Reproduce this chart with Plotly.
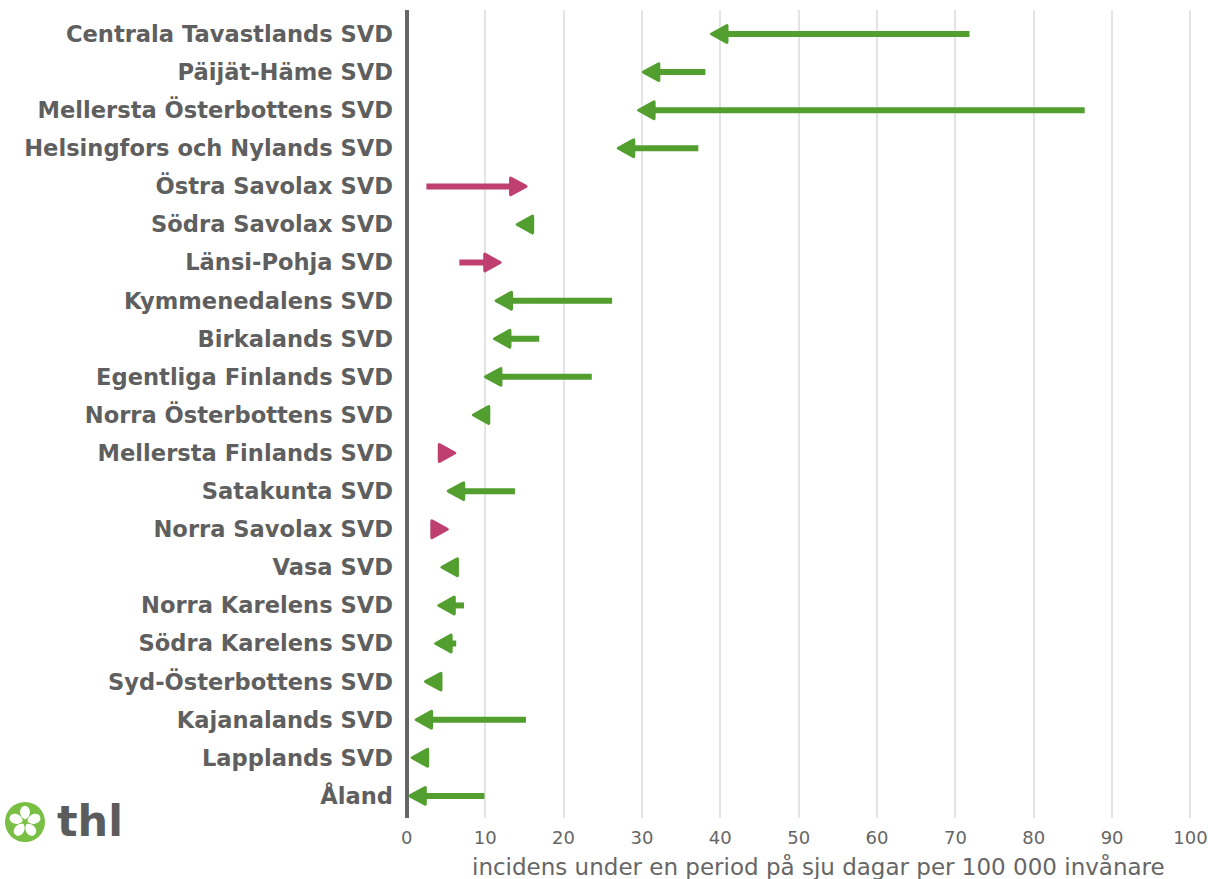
import plotly.graph_objects as go
import math

regions = [
    "Centrala Tavastlands SVD", "Päijät-Häme SVD", "Mellersta Österbottens SVD",
    "Helsingfors och Nylands SVD", "Östra Savolax SVD", "Södra Savolax SVD",
    "Länsi-Pohja SVD", "Kymmenedalens SVD", "Birkalands SVD",
    "Egentliga Finlands SVD", "Norra Österbottens SVD", "Mellersta Finlands SVD",
    "Satakunta SVD", "Norra Savolax SVD", "Vasa SVD", "Norra Karelens SVD",
    "Södra Karelens SVD", "Syd-Österbottens SVD", "Kajanalands SVD",
    "Lapplands SVD", "Åland",
]
previous_week = [71.8, 38.1, 86.5, 37.2, 2.5, 15.5, 6.7, 26.2, 16.9, 23.6, 10.2,
                 4.6, 13.8, 3.8, 6.2, 7.3, 6.3, 4.2, 15.2, 2.6, 9.9]
current_week = [38.5, 29.8, 29.2, 26.6, 15.6, 13.7, 12.3, 11.0, 10.8, 9.65, 8.1,
                6.5, 4.9, 5.55, 4.1, 3.7, 3.3, 2.0, 0.8, 0.3, 0.0]
x_ticks = [0, 10, 20, 30, 40, 50, 60, 70, 80, 90, 100]
x_title = "incidens under en period på sju dagar per 100 000 invånare"

GREEN = "#529e2f"
PINK = "#bf3f70"
GREY = "#5f5f5f"

HEAD_LEN, HEAD_HALF, ROUND = 20, 11, 3.2
L_M, R_M, T_M, B_M = 404, 14, 10, 61
PW, PH = 1208 - L_M - R_M, 879 - T_M - B_M


def rounded_polygon(pts, d):
    n = len(pts)
    A, B = [], []
    for i in range(n):
        vx, vy = pts[i]
        px_, py_ = pts[i - 1]
        nx, ny = pts[(i + 1) % n]
        lp = math.hypot(px_ - vx, py_ - vy)
        ln = math.hypot(nx - vx, ny - vy)
        A.append((vx + d * (px_ - vx) / lp, vy + d * (py_ - vy) / lp))
        B.append((vx + d * (nx - vx) / ln, vy + d * (ny - vy) / ln))
    s = f"M{B[0][0]:.2f},{B[0][1]:.2f}"
    for i in list(range(1, n)) + [0]:
        s += (f" L{A[i][0]:.2f},{A[i][1]:.2f} Q{pts[i][0]:.2f},{pts[i][1]:.2f}"
              f" {B[i][0]:.2f},{B[i][1]:.2f}")
    return s + " Z"


fig = go.Figure()
shapes = []
for i, (name, p, c) in enumerate(zip(regions, previous_week, current_week)):
    col = GREEN if c < p else PINK
    sgn = 1 if c < p else -1  # head extends to the right of the tip for decreases
    fig.add_trace(go.Scatter(
        x=[p, c], y=[name, name], mode="lines+markers",
        line=dict(color=col, width=6, backoff=8),
        marker=dict(symbol="arrow", size=[0, 2], angleref="previous",
                    color=col, opacity=0),
        hoverinfo="skip", showlegend=False,
    ))
    head = rounded_polygon([(0, 0), (sgn * HEAD_LEN, HEAD_HALF),
                            (sgn * HEAD_LEN, -HEAD_HALF)], ROUND)
    shapes.append(dict(type="path", xref="x", yref="y", xsizemode="pixel",
                       ysizemode="pixel", xanchor=c, yanchor=i, path=head,
                       fillcolor=col, line=dict(width=0), layer="above"))

# thl logo
cx, cy = 25 - L_M, -(822 - (879 - B_M))
shapes.append(dict(type="circle", xref="paper", yref="paper", xsizemode="pixel",
                   ysizemode="pixel", xanchor=0, yanchor=0,
                   x0=cx - 20, x1=cx + 20, y0=cy - 20, y1=cy + 20,
                   fillcolor="#78bf43", line=dict(width=0), layer="above"))
for k in range(5):
    th = math.radians(90 + 72 * k)
    ux, uy = math.cos(th), math.sin(th)
    px_, py_ = -uy, ux
    bx, by = cx + 2.5 * ux, cy + 2.5 * uy
    tx, ty = cx + 16 * ux, cy + 16 * uy
    c1 = (bx + 7 * px_ + 3 * ux, by + 7 * py_ + 3 * uy)
    c2 = (tx + 6 * px_, ty + 6 * py_)
    c3 = (tx - 6 * px_, ty - 6 * py_)
    c4 = (bx - 7 * px_ + 3 * ux, by - 7 * py_ + 3 * uy)
    path = (f"M{bx:.2f},{by:.2f} C{c1[0]:.2f},{c1[1]:.2f} {c2[0]:.2f},{c2[1]:.2f} "
            f"{tx:.2f},{ty:.2f} C{c3[0]:.2f},{c3[1]:.2f} {c4[0]:.2f},{c4[1]:.2f} "
            f"{bx:.2f},{by:.2f} Z")
    shapes.append(dict(type="path", xref="paper", yref="paper", xsizemode="pixel",
                       ysizemode="pixel", xanchor=0, yanchor=0, path=path,
                       fillcolor="white", line=dict(width=0), layer="above"))

annotations = [
    dict(text="<b>thl</b>", xref="paper", yref="paper",
         x=-(L_M - 55) / PW, y=-(848 - (879 - B_M)) / PH,
         xanchor="left", yanchor="bottom", showarrow=False,
         font=dict(family="DejaVu Sans", size=43, color="#5c5c5c")),
    dict(text=x_title, xref="paper", yref="paper",
         x=(818 - L_M) / PW, y=-(866 - (879 - B_M)) / PH,
         xanchor="center", yanchor="middle", showarrow=False,
         font=dict(family="DejaVu Sans", size=23, color="#666666")),
]

fig.update_layout(
    width=1208, height=879,
    margin=dict(l=L_M, r=R_M, t=T_M, b=B_M, autoexpand=False),
    paper_bgcolor="white", plot_bgcolor="white",
    font=dict(family="DejaVu Sans", color=GREY),
    shapes=shapes,
    annotations=annotations,
    xaxis=dict(range=[-0.36, 100.45], tickvals=x_ticks, showgrid=True,
               gridcolor="#e4e4e4", gridwidth=2, zeroline=True,
               zerolinecolor="#666666", zerolinewidth=4, showline=False,
               ticks="", ticklabelstandoff=7, automargin=False,
               tickfont=dict(size=18, color="#666666")),
    yaxis=dict(type="category", categoryarray=regions, range=[20.58, -0.63],
               showgrid=False, zeroline=False, showline=False, ticks="",
               ticklabelstandoff=10, automargin=False,
               tickfont=dict(size=22.6, color=GREY, weight="bold")),
)

fig.write_html("out.html",
               config={"displayModeBar": False},
               post_script="document.body.style.margin='0';"
                           "document.body.style.overflow='hidden';")
